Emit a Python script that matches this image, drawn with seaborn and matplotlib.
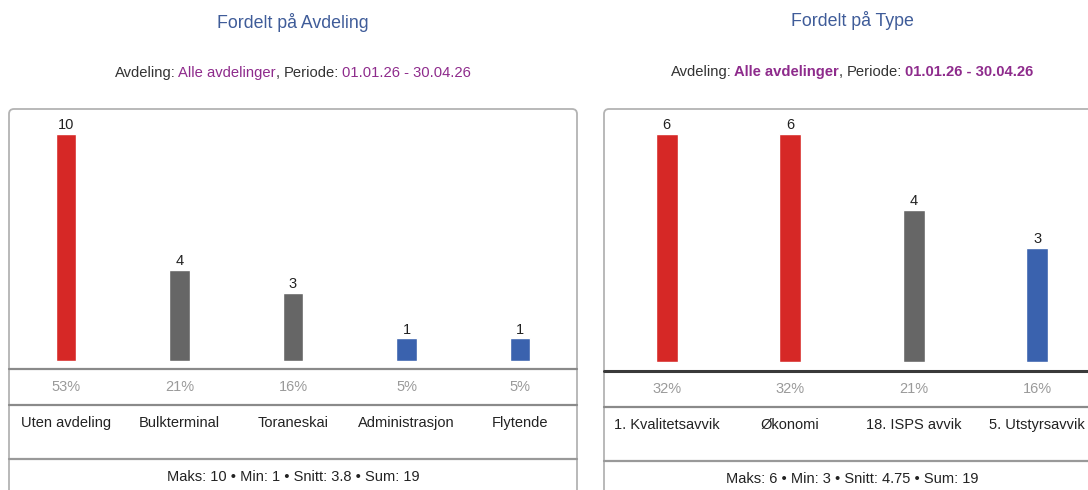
import matplotlib
matplotlib.use("Agg")
import matplotlib.pyplot as plt
import seaborn as sns
from matplotlib.patches import FancyBboxPatch
from matplotlib.lines import Line2D
from matplotlib.transforms import blended_transform_factory

# ---------------- data ----------------
dept_categories = ["Uten avdeling", "Bulkterminal", "Toraneskai", "Administrasjon", "Flytende"]
dept_values = [10, 4, 3, 1, 1]
type_categories = ["1. Kvalitetsavvik", "Økonomi", "18. ISPS avvik", "5. Utstyrsavvik"]
type_values = [6, 6, 4, 3]
panel_titles = ["Fordelt på Avdeling", "Fordelt på Type"]
filter_department = "Alle avdelinger"
filter_period = "01.01.26 - 30.04.26"

# ---------------- style ----------------
RED, GREY, BLUE = "#d62826", "#666666", "#3a62ae"
dept_palette = dict(zip(dept_categories, [RED, GREY, GREY, BLUE, BLUE]))
type_palette = dict(zip(type_categories, [RED, RED, GREY, BLUE]))
TITLE_C = "#3f5c99"
PURPLE = "#8e2b8c"
TXT = "#222222"

sns.set_theme(style="white")
plt.rcParams["font.family"] = ["Liberation Sans", "DejaVu Sans"]

W, H = 1088, 490
fig = plt.figure(figsize=(W / 100, H / 100), dpi=100)
fig.patch.set_facecolor("white")


def fx(x):
    return x / W


def fy(y):
    return 1 - y / H


renderer = fig.canvas.get_renderer()


def twidth(s, fs, w):
    t = fig.text(0, 0, s, fontsize=fs, fontweight=w)
    wd = t.get_window_extent(renderer).width
    t.remove()
    return wd


def rich_line(pieces, cx, y, fs):
    # pieces: (text, color, weight, space_after, kern)
    starts = []
    x = 0.0
    for s, c, w, sp, kern in pieces:
        starts.append(x)
        tail = (" " if sp else "") + "x"
        x += twidth(s + tail, fs, w) - twidth("x", fs, w) - kern
    total = x
    shift = cx - total / 2
    for (s, c, w, sp, kern), x0 in zip(pieces, starts):
        fig.text(fx(x0 + shift), fy(y), s, fontsize=fs, fontweight=w, color=c,
                 ha="left", va="center")


def panel(cats, vals, palette, title, bold, box_l, box_r, ax_l, ax_r,
          base, seps, sep_styles, pct_y, lab_y, stat_y, title_y, sub_y):
    cx = (box_l + box_r) / 2
    # box
    box = FancyBboxPatch((fx(box_l), fy(520)), fx(box_r) - fx(box_l), fy(109) - fy(520),
                         boxstyle="round,pad=0,rounding_size=%f" % (5 / W),
                         mutation_aspect=W / H, transform=fig.transFigure,
                         facecolor="white", edgecolor="#b3b3b3", linewidth=1.3,
                         zorder=0)
    fig.add_artist(box)
    for yy, (c, lw) in zip(seps, sep_styles):
        fig.add_artist(Line2D([fx(box_l), fx(box_r)], [fy(yy), fy(yy)],
                              transform=fig.transFigure, color=c, linewidth=lw))
    # title & subtitle
    fig.text(fx(cx), fy(title_y), title, fontsize=12.8, color=TITLE_C,
             ha="center", va="center")
    wt = "bold" if bold else "normal"
    rich_line([("Avdeling:", "#333333", "normal", True, 1.3),
               (filter_department, PURPLE, wt, False, 0.0),
               (",", "#333333", "normal", True, 0.0),
               ("Periode:", "#333333", "normal", True, 1.3),
               (filter_period, PURPLE, wt, False, 0.0)], cx, sub_y, 10.6)
    # bars
    ax = fig.add_axes([fx(ax_l), fy(base), fx(ax_r) - fx(ax_l), (base - 109) / H])
    ax.patch.set_alpha(0)
    sns.barplot(x=cats, y=vals, hue=cats, palette=palette, width=0.18,
                saturation=1, legend=False, ax=ax, zorder=3)
    ax.set_xlim(-0.5, len(cats) - 0.5)
    ax.set_ylim(0, max(vals) * 1.108)
    ax.axis("off")
    total = sum(vals)
    trans = blended_transform_factory(ax.transData, fig.transFigure)
    for i, v in enumerate(vals):
        ax.annotate(str(v), (i, v), xytext=(0, 1.2), textcoords="offset points",
                    ha="center", va="bottom", fontsize=10.5, color=TXT)
        ax.text(i, fy(pct_y), f"{round(v / total * 100)}%", transform=trans,
                ha="center", va="center", fontsize=10.5, color="#9a9a9a",
                clip_on=False)
        ax.text(i, fy(lab_y), cats[i], transform=trans, ha="center",
                va="center", fontsize=10.5, color=TXT, clip_on=False)
    mean = total / len(vals)
    stats = f"Maks: {max(vals)} \u2022 Min: {min(vals)} \u2022 Snitt: {mean:g} \u2022 Sum: {total}"
    fig.text(fx(cx), fy(stat_y), stats, fontsize=10.5, color=TXT,
             ha="center", va="center")


panel(dept_categories, dept_values, dept_palette, panel_titles[0], False,
      9, 577, 9, 577, 361, [369, 405, 459],
      [("#8a8a8a", 1.6), ("#8a8a8a", 1.6), ("#999999", 1.6)],
      387, 423, 477, 22, 73)
panel(type_categories, type_values, type_palette, panel_titles[1], True,
      604, 1100, 605, 1099, 362, [371, 407, 461],
      [("#3a3a3a", 2.2), ("#8a8a8a", 1.6), ("#999999", 1.6)],
      389, 425, 479, 21, 72)

fig.savefig("out.png", dpi=100, facecolor="white")
